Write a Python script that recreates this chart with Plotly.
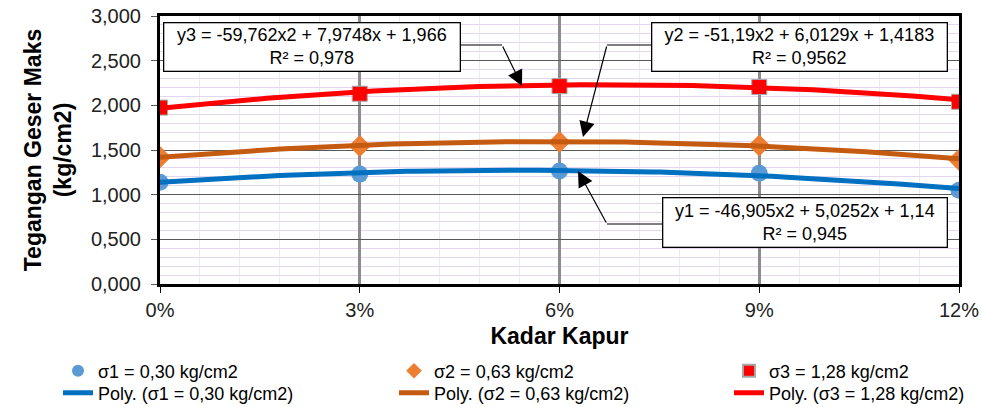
import numpy as np
import plotly.graph_objects as go

# ---- data ----
kadar_kapur = [0.00, 0.03, 0.06, 0.09, 0.12]
sigma1_vals = [1.14, 1.23, 1.265, 1.24, 1.05]
sigma2_vals = [1.42, 1.545, 1.59, 1.55, 1.39]
sigma3_vals = [1.975, 2.13, 2.215, 2.205, 2.04]

series_names = ["σ1 = 0,30 kg/cm2", "σ2 = 0,63 kg/cm2", "σ3 = 1,28 kg/cm2"]
poly_names = ["Poly. (σ1 = 0,30 kg/cm2)", "Poly. (σ2 = 0,63 kg/cm2)", "Poly. (σ3 = 1,28 kg/cm2)"]

# trendline coefficients as displayed (a, b, c) for a*x^2 + b*x + c
coef1 = [-46.905, 5.0252, 1.14]
coef2 = [-51.19, 6.0129, 1.4183]
coef3 = [-59.762, 7.9748, 1.966]
r2_vals = ["0,945", "0,9562", "0,978"]
eq_texts = [
    "y1 = -46,905x2 + 5,0252x + 1,14",
    "y2 = -51,19x2 + 6,0129x + 1,4183",
    "y3 = -59,762x2 + 7,9748x + 1,966",
]

y_ticks = [0, 0.5, 1.0, 1.5, 2.0, 2.5, 3.0]
x_ticks = [0.00, 0.03, 0.06, 0.09, 0.12]

marker_colors = ["#5B9BD5", "#ED7D31", "#FF0000"]
line_colors = ["#0070C0", "#C55A11", "#FF0000"]
symbols = ["circle", "diamond", "square"]
marker_sizes = [17, 17, 15]

FONT = "Liberation Sans, Arial, sans-serif"

W, H = 982, 407
L, R, T, B = 160, 23, 16, 123
pw, ph = W - L - R, H - T - B

def px2paper_x(px):
    return (px - L) / pw

def px2paper_y(py):
    return (H - B - py) / ph

def px2x(px):
    return (px - L) / pw * 0.12

def px2y(py):
    return (H - B - py) / ph * 3.0

fig = go.Figure()

vals = [sigma1_vals, sigma2_vals, sigma3_vals]
coefs = [coef1, coef2, coef3]
marker_legends = ["legend", "legend2", "legend3"]
line_legends = ["legend4", "legend5", "legend6"]

for i in range(3):
    fig.add_trace(go.Scatter(
        x=kadar_kapur, y=vals[i], mode="markers", name=series_names[i],
        marker=dict(symbol=symbols[i], size=marker_sizes[i], color=marker_colors[i],
                    line=dict(width=1 if i == 2 else 0, color="#A6A6A6")),
        legend=marker_legends[i], showlegend=True,
    ))

xs = np.linspace(kadar_kapur[0], kadar_kapur[-1], 121)
for i in range(3):
    a, b, c = coefs[i]
    fig.add_trace(go.Scatter(
        x=xs, y=np.polyval([a, b, c], xs), mode="lines", name=poly_names[i],
        line=dict(color=line_colors[i], width=5), legend=line_legends[i], showlegend=True,
    ))

# ---- equation boxes ----
boxes = [
    (2, 163, 461, 22, 72),
    (1, 651, 948, 22, 72),
    (0, 662, 948, 197, 248),
]
annotations = []
for idx, x0, x1, y0, y1 in boxes:
    annotations.append(dict(
        xref="paper", yref="paper",
        x=px2paper_x((x0 + x1) / 2), y=px2paper_y((y0 + y1) / 2),
        xanchor="center", yanchor="middle",
        text=eq_texts[idx] + "<br>R² = " + r2_vals[idx],
        showarrow=False, align="center",
        font=dict(family=FONT, size=18, color="#000"),
        bgcolor="white", bordercolor="#000", borderwidth=1.3, borderpad=2,
        width=(x1 - x0) - 7, height=(y1 - y0) - 7,
    ))

# leader lines: (box edge px, bend px, tip px)
leaders = [
    ((461, 45), (502, 45), (522, 86)),
    ((651, 45), (607, 45), (583, 137)),
    ((662, 224), (607, 224), (578, 171)),
]
shapes = []
for (ex, ey), (bx, by), (tx, ty) in leaders:
    shapes.append(dict(type="line", xref="x", yref="y",
                       x0=px2x(ex), y0=px2y(ey), x1=px2x(bx), y1=px2y(by),
                       line=dict(color="#000", width=1.2)))
    annotations.append(dict(
        xref="x", yref="y", axref="x", ayref="y",
        x=px2x(tx), y=px2y(ty), ax=px2x(bx), ay=px2y(by),
        text="", showarrow=True, arrowhead=2, arrowsize=2.6, arrowwidth=1.2,
        arrowcolor="#000", standoff=0, startstandoff=0,
    ))

legend_common = dict(
    orientation="v", xanchor="left", yanchor="middle",
    font=dict(family=FONT, size=18, color="#000"),
    bgcolor="rgba(0,0,0,0)", borderwidth=0, tracegroupgap=0,
    itemsizing="constant",
)
col_text_x = [97, 433, 768]
row_y = [371, 393]
lay_legends = {}
for i in range(3):
    lay_legends[marker_legends[i]] = dict(legend_common, x=px2paper_x(col_text_x[i] - 39), y=px2paper_y(row_y[0]))
    lay_legends[line_legends[i]] = dict(legend_common, x=px2paper_x(col_text_x[i] - 39), y=px2paper_y(row_y[1]))

fig.update_layout(
    width=W, height=H,
    margin=dict(l=L, r=R, t=T, b=B, autoexpand=False),
    paper_bgcolor="white", plot_bgcolor="white",
    separators=",.",
    font=dict(family=FONT, size=20, color="#222"),
    xaxis=dict(
        range=[0, 0.12], tickvals=x_ticks, tickformat=".0%",
        showline=True, linecolor="#000", linewidth=3, mirror=True,
        ticks="outside", ticklen=6, tickcolor="#000", tickwidth=1,
        ticklabelstandoff=0,
        showgrid=True, gridcolor="#8C8C8C", gridwidth=3,
        minor=dict(dtick=0.006, showgrid=True, gridcolor="#EAEAEA", gridwidth=1),
        zeroline=False,
        title=dict(text="<b>Kadar Kapur</b>", font=dict(family=FONT, size=23, color="#000"), standoff=8),
        tickfont=dict(family=FONT, size=20, color="#222"),
    ),
    yaxis=dict(
        range=[0, 3.0], tickvals=y_ticks, tickformat=".3f",
        showline=True, linecolor="#000", linewidth=3, mirror=True,
        ticks="outside", ticklen=6, tickcolor="#595959", tickwidth=1,
        ticklabelstandoff=6,
        showgrid=True, gridcolor="#595959", gridwidth=1.3,
        minor=dict(dtick=0.1, showgrid=True, gridcolor="#E2D6F0", gridwidth=1),
        zeroline=False,
        title=dict(text="<b>Tegangan Geser Maks<br>(kg/cm2)</b>", font=dict(family=FONT, size=23, color="#000"), standoff=13),
        tickfont=dict(family=FONT, size=20, color="#222"),
    ),
    annotations=annotations,
    shapes=shapes,
    **lay_legends,
)

fig.write_html("out.html")
